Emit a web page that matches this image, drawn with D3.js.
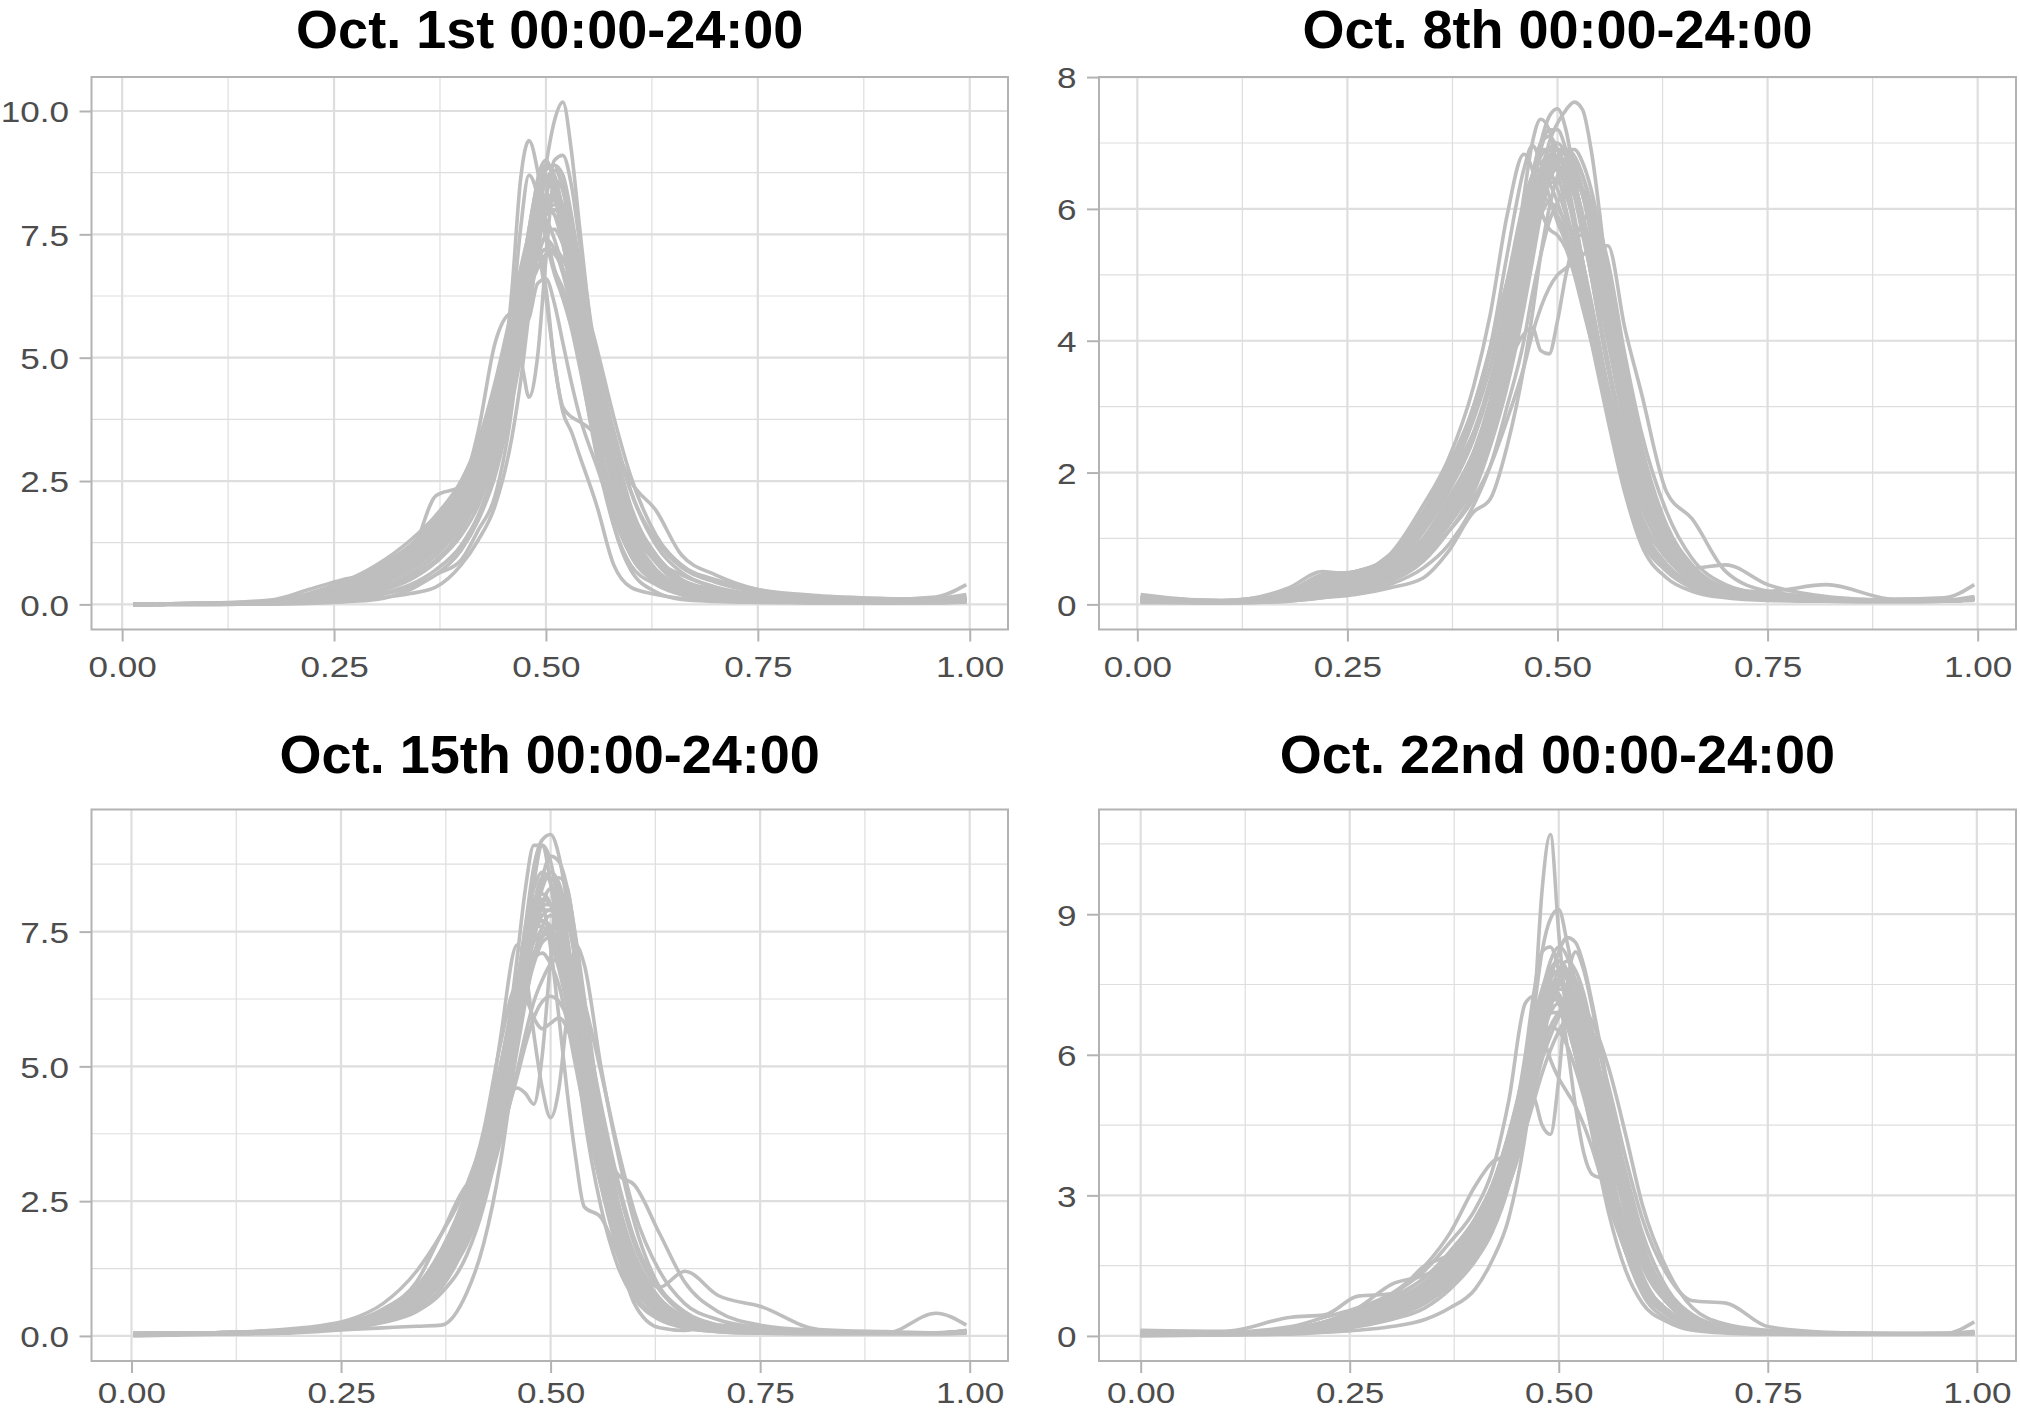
<!DOCTYPE html>
<html>
<head>
<meta charset="utf-8">
<script src="https://cdn.jsdelivr.net/npm/d3@7"></script>
<style>
  body { margin: 0; background: #fff; }
  svg { display: block; }
</style>
</head>
<body>
<svg id="chart" width="2020" height="1410"></svg>
<script>
//DATA
const titles = ["Oct. 1st 00:00-24:00", "Oct. 8th 00:00-24:00", "Oct. 15th 00:00-24:00", "Oct. 22nd 00:00-24:00"];

const xTicks = [0, 0.25, 0.5, 0.75, 1];
const xTickLabels = ["0.00", "0.25", "0.50", "0.75", "1.00"];

const yTicks1 = [0, 2.5, 5, 7.5, 10];
const yTickLabels1 = ["0.0", "2.5", "5.0", "7.5", "10.0"];
const yTicks2 = [0, 2, 4, 6, 8];
const yTickLabels2 = ["0", "2", "4", "6", "8"];
const yTicks3 = [0, 2.5, 5, 7.5];
const yTickLabels3 = ["0.0", "2.5", "5.0", "7.5"];
const yTicks4 = [0, 3, 6, 9];
const yTickLabels4 = ["0", "3", "6", "9"];

const xs1 = [0.013,0.1,0.18,0.22,0.26, 0.3,0.34,0.37,0.4,0.42, 0.44,0.46,0.47,0.48,0.49, 0.5,0.51,0.52,0.53,0.54, 0.56,0.58,0.6,0.63,0.66, 0.7,0.75,0.82,0.9,0.96, 0.996];
const xs2 = [0.004,0.1,0.18,0.22,0.26, 0.3,0.34,0.37,0.4,0.42, 0.44,0.46,0.47,0.48,0.49, 0.5,0.51,0.52,0.53,0.54, 0.56,0.58,0.6,0.63,0.66, 0.7,0.75,0.82,0.9,0.96, 0.996];
const xs3 = [0.002,0.1,0.18,0.22,0.26, 0.3,0.34,0.37,0.4,0.42, 0.44,0.46,0.47,0.48,0.49, 0.5,0.51,0.52,0.53,0.54, 0.56,0.58,0.6,0.63,0.66, 0.7,0.75,0.82,0.9,0.96, 0.996];
const xs4 = [0.0,0.1,0.18,0.22,0.26, 0.3,0.34,0.37,0.4,0.42, 0.44,0.46,0.47,0.48,0.49, 0.5,0.51,0.52,0.53,0.54, 0.56,0.58,0.6,0.63,0.66, 0.7,0.75,0.82,0.9,0.96, 0.997];

const oct1 = [
  [0,0.01,0.02,0.05,0.1, 0.2,0.4,0.7,1.2,1.8, 2.8,4.2,5.2,6.4,7.7, 8.9,9.8,10.18,9.2,7.6, 4.6,2.5,1.3,0.6,0.3, 0.15,0.08,0.05,0.04,0.05, 0.06],
  [0,0.02,0.05,0.15,0.3, 0.5,0.9,1.4,2.0,2.6, 3.6,6.4,8.6,9.4,8.8, 7.6,6.8,6.4,5.8,4.9, 3.0,1.6,0.8,0.4,0.2, 0.12,0.08,0.06,0.05,0.05, 0.08],
  [0,0.01,0.03,0.1,0.25, 0.45,0.8,1.3,1.9,2.5, 3.2,4.6,4.9,4.2,5.0, 7.0,8.6,8.4,7.3,5.9, 3.6,2.0,1.1,0.5,0.25, 0.12,0.07,0.05,0.04,0.05, 0.1],
  [0,0.02,0.1,0.3,0.5, 0.65,1.0,2.2,2.4,3.5, 5.3,5.9,5.6,5.8,6.5, 6.6,6.1,5.3,4.5,3.8, 2.8,1.8,1.1,0.6,0.35, 0.2,0.1,0.06,0.05,0.06, 0.1],
  [0,0.01,0.05,0.2,0.45, 0.7,1.0,1.5,2.2,2.9, 3.9,5.5,6.3,7.0,7.1, 6.2,4.9,3.9,3.5,3.0, 2.0,0.8,0.35,0.2,0.12, 0.08,0.05,0.04,0.04,0.04, 0.05],
  [0,0.01,0.02,0.06,0.15, 0.3,0.6,1.0,1.6,2.2, 3.0,4.4,5.3,6.2,7.0, 7.5,7.6,7.3,6.8,6.0, 4.5,3.3,2.5,1.9,1.0, 0.6,0.3,0.15,0.1,0.1, 0.15],
  [0,0,0.01,0.02,0.05, 0.1,0.3,0.6,0.9,1.5, 2.2,4.0,5.5,7.0,8.2, 8.8,8.9,8.4,7.6,6.4, 4.3,2.6,1.4,0.6,0.3, 0.15,0.08,0.05,0.05,0.05, 0.08],
  [0,0.01,0.04,0.12,0.3, 0.55,0.95,1.5,2.3,3.1, 4.3,5.8,6.6,7.3,7.8, 8.0,7.9,7.6,7.0,6.1, 4.4,2.8,1.6,0.9,0.6, 0.35,0.2,0.12,0.1,0.12, 0.2],
  [0,0,0.02,0.04,0.1, 0.18,0.35,0.6,1.1,1.7, 2.6,4.1,5.0,6.0,7.1, 8.2,9.0,9.1,8.5,7.3, 4.9,2.9,1.6,0.7,0.3, 0.12,0.06,0.04,0.03,0.05, 0.12],
  [0,0.02,0.06,0.2,0.45, 0.8,1.3,1.8,2.5,3.2, 4.2,5.3,5.9,6.4,6.8, 7.1,7.2,7.0,6.6,6.0, 4.8,3.5,2.3,1.3,0.75, 0.45,0.25,0.12,0.08,0.08, 0.12],
  [0,0,0.01,0.03,0.06, 0.12,0.22,0.35,0.8,1.3, 2.0,3.4,4.5,5.9,7.2, 8.3,8.9,8.7,7.9,6.8, 4.7,3.0,1.8,0.9,0.5, 0.3,0.15,0.1,0.1,0.15, 0.4],
  [0,0.01,0.03,0.08,0.2, 0.4,0.7,1.1,1.6,2.1, 3.0,4.8,6.0,7.4,8.6, 9.0,8.5,7.4,6.2,5.1, 3.2,1.6,0.7,0.25,0.1, 0.06,0.04,0.03,0.03,0.03, 0.05],
  [0,0.01,0.05,0.15,0.35, 0.6,1.0,1.5,2.1,2.8, 3.8,5.2,6.2,7.1,7.3, 6.4,4.9,4.0,3.8,3.7, 3.4,2.6,1.7,0.9,0.5, 0.25,0.12,0.07,0.05,0.05, 0.08],
  [0,0.01,0.02,0.05,0.12, 0.25,0.5,0.85,1.4,2.0, 3.0,4.6,5.5,6.6,7.8, 8.5,8.4,7.8,7.2,6.5, 5.2,3.8,2.6,1.4,0.8, 0.5,0.3,0.18,0.12,0.1, 0.15],
  [0,0.01,0.03,0.1,0.25, 0.45,0.8,1.2,1.8,2.4, 3.4,5.8,7.6,8.7,8.3, 7.4,6.7,6.2,5.6,4.8, 3.1,1.8,1.0,0.5,0.25, 0.12,0.07,0.05,0.04,0.05, 0.06],
  [0,0.01,0.04,0.12,0.28, 0.5,0.85,1.3,1.9,2.6, 3.7,5.3,6.3,7.2,7.9, 8.3,8.2,7.7,6.9,5.9, 4.0,2.4,1.3,0.6,0.3, 0.15,0.08,0.05,0.05,0.05, 0.08],
  [0,0.01,0.03,0.08,0.2, 0.4,0.75,1.2,1.8,2.5, 3.5,5.0,5.9,6.8,7.5, 7.9,8.0,7.8,7.3,6.5, 4.7,3.1,1.8,0.9,0.45, 0.22,0.12,0.07,0.05,0.05, 0.08],
  [0,0.02,0.05,0.15,0.35, 0.6,1.0,1.5,2.2,3.0, 4.1,5.6,6.5,7.5,8.3, 8.7,8.5,7.8,6.8,5.6, 3.5,2.0,1.1,0.5,0.25, 0.12,0.07,0.05,0.04,0.05, 0.08],
  [0,0.01,0.03,0.09,0.22, 0.42,0.75,1.1,1.7,2.3, 3.3,4.9,6.0,7.1,8.0, 8.6,8.8,8.5,7.8,6.9, 4.9,3.1,1.8,0.85,0.4, 0.2,0.1,0.06,0.05,0.05, 0.1],
  [0,0.02,0.06,0.18,0.4, 0.7,1.15,1.7,2.4,3.1, 4.2,5.6,6.3,6.9,7.3, 7.4,7.2,6.7,6.0,5.2, 3.7,2.5,1.6,0.85,0.45, 0.25,0.13,0.08,0.06,0.06, 0.1],
  [0,0.01,0.02,0.06,0.14, 0.28,0.55,0.9,1.5,2.2, 3.3,5.2,6.4,7.6,8.5, 8.9,8.7,8.0,7.0,5.9, 3.9,2.3,1.2,0.5,0.22, 0.1,0.06,0.04,0.04,0.04, 0.06],
  [0,0.02,0.07,0.22,0.45, 0.75,1.2,1.75,2.5,3.3, 4.5,6.0,6.8,7.5,7.9, 7.8,7.4,6.8,6.0,5.1, 3.4,2.1,1.2,0.6,0.3, 0.15,0.08,0.06,0.05,0.06, 0.1],
  [0,0.01,0.03,0.1,0.22, 0.45,0.8,1.25,1.9,2.6, 3.7,5.2,6.1,6.9,7.6, 8.1,8.3,8.1,7.5,6.7, 4.9,3.3,2.0,1.0,0.5, 0.25,0.12,0.07,0.06,0.07, 0.12],
  [0,0.01,0.04,0.14,0.32, 0.6,1.05,1.6,2.3,3.0, 4.0,5.5,6.5,7.6,8.5, 8.9,8.6,7.7,6.6,5.4, 3.3,1.9,1.0,0.45,0.2, 0.1,0.06,0.04,0.04,0.05, 0.08],
  [0,0.01,0.02,0.07,0.16, 0.32,0.62,1.0,1.6,2.2, 3.1,4.5,5.4,6.4,7.3, 7.9,8.1,7.9,7.4,6.7, 5.0,3.5,2.3,1.2,0.65, 0.35,0.18,0.1,0.07,0.08, 0.15],
  [0,0.02,0.05,0.16,0.38, 0.66,1.1,1.6,2.3,3.0, 4.0,5.3,6.0,6.6,7.0, 7.2,7.1,6.8,6.3,5.7, 4.3,3.0,1.9,1.0,0.5, 0.25,0.13,0.08,0.06,0.06, 0.1],
  [0,0.01,0.03,0.09,0.2, 0.38,0.7,1.1,1.7,2.4, 3.5,5.2,6.3,7.5,8.4, 8.7,8.3,7.4,6.3,5.2, 3.2,1.9,1.0,0.45,0.2, 0.1,0.06,0.04,0.04,0.04, 0.06],
  [0,0.01,0.04,0.12,0.3, 0.55,0.9,1.4,2.0,2.7, 3.8,5.4,6.4,7.3,7.9, 8.1,7.9,7.3,6.5,5.6, 3.8,2.4,1.4,0.7,0.35, 0.18,0.1,0.06,0.05,0.05, 0.08],
  [0,0.01,0.03,0.1,0.24, 0.46,0.82,1.3,2.0,2.7, 3.8,5.1,5.9,6.7,7.4, 7.9,8.2,8.1,7.6,6.8, 4.9,3.2,1.9,0.9,0.45, 0.22,0.12,0.07,0.05,0.05, 0.08]
];

const oct8 = [
  [0.05,0.05,0.1,0.2,0.3, 0.45,0.8,1.3,2.0,2.6, 3.5,4.8,5.6,6.4,7.0, 7.3,7.5,7.62,7.5,6.9, 4.9,3.2,2.0,1.0,0.5, 0.2,0.1,0.05,0.05,0.05, 0.1],
  [0.1,0.05,0.15,0.3,0.4, 0.6,1.0,1.6,2.3,3.0, 4.0,5.6,6.4,7.0,7.4, 7.52,7.2,6.5,5.8,5.0, 3.6,2.5,1.6,0.9,0.45, 0.2,0.1,0.06,0.05,0.05, 0.08],
  [0.05,0.05,0.12,0.25,0.4, 0.6,1.1,1.8,2.6,3.3, 4.4,6.2,7.0,7.36,7.2, 6.6,6.0,5.5,5.0,4.4, 3.3,2.3,1.5,0.8,0.4, 0.2,0.1,0.05,0.04,0.05, 0.1],
  [0.1,0.05,0.15,0.35,0.45, 0.7,1.3,2.0,3.0,3.9, 5.3,6.6,6.96,6.7,6.2, 5.8,5.5,5.2,4.8,4.2, 3.1,2.1,1.3,0.7,0.35, 0.18,0.1,0.06,0.05,0.05, 0.1],
  [0.12,0.05,0.2,0.45,0.5, 0.75,1.5,2.2,3.3,4.4, 5.9,6.83,6.6,6.0,5.7, 5.6,5.4,5.0,4.5,4.0, 3.0,2.0,1.2,0.6,0.3, 0.15,0.1,0.06,0.05,0.05, 0.08],
  [0.05,0.04,0.1,0.2,0.3, 0.45,0.8,1.4,2.2,2.9, 3.6,4.1,4.2,3.85,3.8, 4.3,5.0,5.5,5.8,5.94, 5.2,3.8,2.6,1.4,0.7, 0.3,0.15,0.08,0.05,0.05, 0.1],
  [0.05,0.03,0.08,0.15,0.25, 0.4,0.7,1.1,1.6,2.1, 2.8,3.6,4.1,4.5,4.8, 5.0,5.1,5.2,5.3,5.4, 5.44,4.2,3.2,1.7,1.3, 0.5,0.2,0.1,0.06,0.05, 0.08],
  [0.03,0.02,0.05,0.1,0.15, 0.25,0.4,0.8,1.4,1.6, 2.4,3.6,4.4,5.3,6.0, 6.5,6.7,6.6,6.2,5.6, 4.2,2.9,1.8,0.9,0.4, 0.15,0.08,0.05,0.04,0.05, 0.1],
  [0.15,0.05,0.25,0.5,0.45, 0.75,1.2,1.9,2.6,3.3, 4.3,5.3,5.8,6.2,6.4, 6.4,6.2,5.8,5.2,4.5, 3.2,2.1,1.2,0.6,0.3, 0.15,0.1,0.06,0.05,0.06, 0.12],
  [0.05,0.04,0.1,0.2,0.3, 0.45,0.85,1.4,2.1,2.8, 3.7,4.9,5.6,6.2,6.6, 6.8,6.7,6.4,5.9,5.3, 4.0,2.8,1.8,1.0,0.55, 0.6,0.3,0.12,0.06,0.05, 0.08],
  [0.08,0.05,0.12,0.25,0.35, 0.5,0.9,1.5,2.3,3.1, 4.2,5.6,6.3,6.8,6.9, 6.7,6.3,5.7,5.0,4.3, 3.1,2.0,1.2,0.6,0.3, 0.2,0.2,0.3,0.08,0.1, 0.3],
  [0.05,0.04,0.1,0.2,0.3, 0.5,0.9,1.5,2.2,2.9, 3.9,5.2,5.9,6.5,6.8, 6.9,6.8,6.4,5.9,5.3, 4.0,2.7,1.7,0.9,0.45, 0.2,0.1,0.05,0.05,0.05, 0.1],
  [0.03,0.02,0.05,0.1,0.18, 0.3,0.55,0.9,1.5,2.1, 3.0,4.0,4.7,5.3,5.8, 6.1,6.3,6.4,6.3,6.0, 4.9,3.6,2.4,1.2,0.6, 0.25,0.12,0.06,0.05,0.05, 0.08],
  [0.1,0.05,0.2,0.4,0.5, 0.7,1.4,2.1,3.0,3.9, 4.9,5.8,6.1,6.2,6.1, 5.9,5.6,5.1,4.6,4.0, 2.8,1.7,0.9,0.4,0.2, 0.1,0.06,0.05,0.05,0.05, 0.06],
  [0.05,0.04,0.1,0.2,0.3, 0.5,0.9,1.4,2.1,2.8, 3.8,4.9,5.5,5.9,6.1, 6.0,5.8,5.6,5.6,5.6, 4.8,3.4,2.2,1.1,0.5, 0.2,0.1,0.05,0.05,0.05, 0.08],
  [0.06,0.04,0.1,0.22,0.32, 0.5,0.9,1.5,2.2,2.9, 3.9,5.3,6.0,6.6,6.9, 7.0,6.8,6.3,5.7,5.0, 3.6,2.4,1.5,0.75,0.35, 0.15,0.08,0.05,0.05,0.05, 0.08],
  [0.04,0.03,0.08,0.16,0.26, 0.42,0.75,1.2,1.9,2.6, 3.5,4.7,5.4,6.0,6.5, 6.8,6.9,6.8,6.5,6.0, 4.6,3.2,2.0,1.0,0.5, 0.22,0.1,0.06,0.05,0.05, 0.08],
  [0.08,0.05,0.15,0.3,0.42, 0.62,1.1,1.7,2.5,3.3, 4.4,5.8,6.5,7.0,7.1, 6.9,6.5,5.9,5.2,4.5, 3.1,2.0,1.2,0.6,0.3, 0.14,0.08,0.05,0.05,0.05, 0.08],
  [0.05,0.04,0.1,0.2,0.3, 0.48,0.85,1.4,2.0,2.7, 3.6,4.8,5.5,6.1,6.5, 6.6,6.5,6.2,5.8,5.3, 4.1,2.9,1.9,1.0,0.5, 0.22,0.1,0.06,0.05,0.05, 0.1],
  [0.1,0.06,0.18,0.38,0.48, 0.68,1.25,1.9,2.8,3.6, 4.7,6.0,6.5,6.7,6.6, 6.3,5.9,5.4,4.9,4.3, 3.0,1.9,1.1,0.55,0.28, 0.13,0.08,0.05,0.05,0.05, 0.08],
  [0.04,0.03,0.07,0.14,0.22, 0.35,0.65,1.1,1.7,2.4, 3.3,4.5,5.2,5.9,6.4, 6.7,6.9,6.9,6.7,6.3, 5.0,3.5,2.2,1.1,0.55, 0.24,0.12,0.06,0.05,0.05, 0.08],
  [0.07,0.05,0.12,0.26,0.36, 0.55,0.95,1.55,2.3,3.0, 4.0,5.4,6.1,6.6,6.8, 6.8,6.6,6.2,5.6,5.0, 3.6,2.5,1.6,0.8,0.4, 0.18,0.1,0.06,0.05,0.05, 0.08],
  [0.05,0.04,0.1,0.2,0.3, 0.46,0.82,1.35,2.0,2.7, 3.6,4.9,5.7,6.3,6.7, 6.9,6.9,6.7,6.3,5.8, 4.4,3.1,2.0,1.0,0.5, 0.22,0.11,0.06,0.05,0.05, 0.08],
  [0.09,0.05,0.16,0.33,0.44, 0.65,1.15,1.8,2.6,3.4, 4.5,5.9,6.5,6.9,6.9, 6.7,6.3,5.8,5.2,4.6, 3.3,2.2,1.35,0.7,0.35, 0.16,0.09,0.05,0.05,0.05, 0.08],
  [0.04,0.03,0.08,0.17,0.27, 0.42,0.76,1.25,1.9,2.6, 3.5,4.8,5.5,6.1,6.5, 6.7,6.7,6.5,6.2,5.7, 4.5,3.2,2.1,1.1,0.55, 0.24,0.12,0.06,0.05,0.05, 0.1],
  [0.06,0.04,0.12,0.25,0.35, 0.53,0.95,1.55,2.3,3.0, 4.1,5.5,6.3,6.9,7.2, 7.2,6.9,6.4,5.8,5.1, 3.7,2.5,1.6,0.8,0.4, 0.18,0.09,0.05,0.05,0.05, 0.08],
  [0.05,0.04,0.1,0.21,0.31, 0.48,0.86,1.4,2.1,2.8, 3.8,5.1,5.8,6.4,6.7, 6.8,6.6,6.3,5.9,5.4, 4.1,2.9,1.9,1.0,0.5, 0.22,0.11,0.06,0.05,0.05, 0.08],
  [0.11,0.06,0.2,0.42,0.5, 0.72,1.35,2.0,2.9,3.8, 4.9,6.1,6.5,6.6,6.4, 6.1,5.7,5.2,4.7,4.1, 2.9,1.8,1.0,0.5,0.25, 0.12,0.07,0.05,0.05,0.05, 0.07],
  [0.04,0.03,0.08,0.16,0.25, 0.4,0.72,1.2,1.8,2.5, 3.4,4.6,5.3,6.0,6.5, 6.8,6.9,6.8,6.5,6.1, 4.8,3.4,2.2,1.1,0.55, 0.25,0.12,0.06,0.05,0.05, 0.1]
];

const oct15 = [
  [0.02,0.05,0.08,0.12,0.2, 0.3,0.6,1.1,1.9,2.9, 4.3,6.3,7.6,8.7,9.2, 9.3,8.9,8.0,6.9,5.7, 3.6,2.1,1.2,0.6,0.3, 0.15,0.08,0.05,0.05,0.05, 0.1],
  [0.02,0.05,0.08,0.12,0.2, 0.3,0.5,0.9,1.8,2.9, 4.6,7.0,8.3,9.1,9.1, 8.4,7.3,6.2,5.2,4.3, 2.8,1.6,0.9,0.4,0.2, 0.1,0.06,0.05,0.05,0.05, 0.1],
  [0.03,0.06,0.1,0.15,0.2, 0.35,0.7,1.3,2.3,3.4, 5.5,7.25,6.8,5.6,4.6, 4.05,4.6,6.0,7.25,6.9, 5.0,3.4,2.1,0.9,0.4, 0.15,0.08,0.05,0.05,0.05, 0.1],
  [0.05,0.05,0.1,0.15,0.25, 0.5,1.0,1.9,2.8,3.0, 3.8,5.3,6.2,7.0,7.6, 7.8,7.5,6.8,5.9,5.0, 3.3,2.0,1.2,0.6,0.3, 0.15,0.08,0.05,0.05,0.05, 0.08],
  [0,0.03,0.05,0.08,0.12, 0.15,0.18,0.2,0.8,1.7, 3.2,5.4,6.6,7.7,8.4, 8.6,8.3,7.4,6.3,5.1, 3.0,1.6,0.8,0.35,0.15, 0.08,0.05,0.04,0.04,0.04, 0.06],
  [0.05,0.05,0.1,0.15,0.25, 0.45,0.9,1.6,2.7,3.8, 5.4,6.5,6.3,5.9,5.7, 5.8,5.9,5.7,5.2,4.5, 3.1,2.0,1.2,0.6,0.3, 0.15,0.08,0.05,0.05,0.05, 0.08],
  [0.03,0.05,0.08,0.12,0.2, 0.35,0.7,1.3,2.2,3.1, 4.1,4.6,4.5,4.3,5.2, 7.0,8.5,8.3,7.3,6.0, 3.8,2.2,1.2,0.55,0.25, 0.12,0.06,0.05,0.05,0.05, 0.08],
  [0.03,0.05,0.08,0.12,0.2, 0.35,0.65,1.1,1.9,2.7, 3.7,4.8,5.4,5.9,6.2, 6.3,6.2,5.9,5.4,4.8, 3.8,3.0,2.8,1.9,1.0, 0.45,0.2,0.1,0.06,0.05, 0.08],
  [0.02,0.05,0.08,0.12,0.2, 0.3,0.6,1.2,2.1,3.1, 4.5,6.4,7.5,8.1,8.0, 7.2,5.9,4.5,3.3,2.4, 2.2,1.5,0.6,0.15,0.1, 0.2,0.12,0.06,0.05,0.05, 0.06],
  [0.05,0.06,0.1,0.15,0.25, 0.45,0.85,1.4,2.3,3.2, 4.5,5.8,6.5,7.1,7.4, 7.5,7.3,6.8,6.0,5.2, 3.7,2.4,1.5,0.9,1.2, 0.75,0.55,0.12,0.08,0.06, 0.1],
  [0.04,0.05,0.1,0.15,0.22, 0.4,0.8,1.4,2.4,3.5, 5.0,6.6,7.4,8.0,8.2, 8.0,7.4,6.6,5.6,4.6, 3.0,1.8,1.0,0.5,0.25, 0.12,0.07,0.05,0.05,0.42, 0.2],
  [0.02,0.04,0.06,0.1,0.15, 0.25,0.45,0.8,1.5,2.4, 3.8,5.9,7.2,8.4,9.1, 8.8,7.9,6.6,5.3,4.1, 2.4,1.3,0.7,0.3,0.15, 0.08,0.05,0.04,0.04,0.04, 0.05],
  [0.02,0.04,0.06,0.1,0.15, 0.28,0.55,1.0,1.7,2.5, 3.6,4.9,5.6,6.2,6.6, 6.9,7.0,7.0,6.7,6.2, 4.9,3.5,2.3,1.2,0.6, 0.3,0.15,0.08,0.05,0.05, 0.08],
  [0.05,0.06,0.12,0.18,0.3, 0.6,1.2,1.9,2.8,3.7, 4.9,6.0,6.6,7.0,7.1, 6.9,6.5,5.8,5.0,4.2, 2.8,1.7,0.9,0.45,0.2, 0.1,0.06,0.05,0.05,0.05, 0.08],
  [0.02,0.04,0.07,0.1,0.18, 0.3,0.6,1.1,1.9,2.8, 4.0,5.8,6.9,7.8,8.5, 8.9,8.8,8.3,7.4,6.3, 4.1,2.5,1.4,0.6,0.3, 0.12,0.07,0.05,0.05,0.05, 0.08],
  [0.03,0.05,0.08,0.12,0.2, 0.35,0.7,1.25,2.1,3.0, 4.3,5.9,6.8,7.6,8.0, 8.0,7.6,6.9,6.0,5.1, 3.4,2.1,1.2,0.6,0.3, 0.14,0.08,0.05,0.05,0.05, 0.08],
  [0.02,0.04,0.07,0.1,0.18, 0.32,0.62,1.1,1.9,2.8, 4.1,5.8,6.8,7.5,7.9, 7.9,7.6,7.0,6.2,5.3, 3.5,2.1,1.2,0.55,0.25, 0.12,0.06,0.05,0.05,0.05, 0.08],
  [0.04,0.06,0.1,0.15,0.24, 0.45,0.9,1.6,2.6,3.6, 5.0,6.5,7.2,7.6,7.6, 7.3,6.8,6.1,5.3,4.5, 3.0,1.9,1.1,0.55,0.28, 0.13,0.07,0.05,0.05,0.05, 0.08],
  [0.02,0.04,0.06,0.1,0.16, 0.28,0.55,1.0,1.8,2.7, 4.0,5.7,6.8,7.7,8.3, 8.6,8.4,7.8,6.9,5.8, 3.8,2.3,1.3,0.6,0.28, 0.13,0.07,0.05,0.05,0.05, 0.07],
  [0.03,0.05,0.08,0.12,0.2, 0.36,0.7,1.2,2.0,2.9, 4.1,5.5,6.3,6.9,7.3, 7.4,7.3,7.0,6.5,5.8, 4.2,2.8,1.7,0.85,0.42, 0.2,0.1,0.06,0.05,0.05, 0.08],
  [0.02,0.04,0.07,0.11,0.18, 0.3,0.6,1.1,2.0,3.0, 4.6,6.5,7.6,8.3,8.6, 8.4,7.8,6.9,5.9,4.9, 3.1,1.8,1.0,0.45,0.22, 0.1,0.06,0.05,0.05,0.05, 0.07],
  [0.03,0.05,0.08,0.12,0.21, 0.38,0.75,1.3,2.2,3.2, 4.6,6.2,7.1,7.8,8.1, 8.0,7.6,6.9,6.0,5.1, 3.3,2.0,1.1,0.55,0.27, 0.13,0.07,0.05,0.05,0.05, 0.08],
  [0.02,0.04,0.07,0.11,0.18, 0.33,0.65,1.15,2.0,2.9, 4.2,5.8,6.7,7.4,7.8, 7.9,7.7,7.2,6.5,5.7, 3.9,2.5,1.5,0.7,0.35, 0.16,0.08,0.05,0.05,0.05, 0.08],
  [0.04,0.06,0.1,0.15,0.25, 0.46,0.9,1.55,2.5,3.5, 4.9,6.4,7.1,7.6,7.7, 7.5,7.0,6.3,5.5,4.7, 3.1,1.9,1.1,0.5,0.25, 0.12,0.07,0.05,0.05,0.05, 0.08],
  [0.02,0.04,0.06,0.1,0.17, 0.3,0.58,1.05,1.85,2.75, 4.0,5.6,6.6,7.4,8.0, 8.3,8.2,7.7,7.0,6.1, 4.1,2.5,1.4,0.65,0.3, 0.14,0.07,0.05,0.05,0.05, 0.07],
  [0.03,0.05,0.09,0.13,0.22, 0.4,0.8,1.4,2.3,3.3, 4.6,6.0,6.8,7.3,7.5, 7.4,7.1,6.6,5.9,5.1, 3.5,2.2,1.3,0.65,0.32, 0.15,0.08,0.05,0.05,0.05, 0.08],
  [0.02,0.04,0.07,0.1,0.17, 0.3,0.6,1.1,1.95,2.9, 4.3,6.1,7.2,8.0,8.5, 8.5,8.1,7.3,6.3,5.3, 3.4,2.0,1.1,0.5,0.24, 0.11,0.06,0.05,0.05,0.05, 0.07],
  [0.03,0.05,0.08,0.12,0.2, 0.36,0.7,1.2,2.0,2.9, 4.1,5.6,6.4,7.0,7.4, 7.6,7.5,7.2,6.6,5.9, 4.3,2.9,1.8,0.9,0.45, 0.2,0.1,0.06,0.05,0.05, 0.08],
  [0.04,0.05,0.09,0.14,0.23, 0.42,0.85,1.5,2.4,3.4, 4.8,6.3,7.0,7.5,7.7, 7.6,7.2,6.5,5.7,4.9, 3.3,2.0,1.2,0.6,0.3, 0.14,0.08,0.05,0.05,0.05, 0.08]
];

const oct22 = [
  [0.02,0.03,0.05,0.1,0.2, 0.35,0.6,1.0,1.6,2.2, 3.2,5.0,6.8,9.5,10.7, 8.6,6.8,6.0,5.2,4.3, 2.6,1.4,0.7,0.3,0.12, 0.06,0.04,0.03,0.03,0.03, 0.05],
  [0.05,0.05,0.1,0.2,0.35, 0.55,0.9,1.4,2.1,2.8, 3.8,5.6,6.9,8.2,8.9, 9.1,8.4,7.5,6.5,5.4, 3.3,1.8,0.9,0.35,0.15, 0.08,0.05,0.04,0.04,0.04, 0.05],
  [0.02,0.03,0.06,0.12,0.22, 0.4,0.7,1.1,1.8,2.5, 3.5,4.9,5.8,6.8,7.6, 8.2,8.5,8.4,7.9,7.1, 5.2,3.4,2.0,0.9,0.4, 0.15,0.08,0.05,0.04,0.04, 0.06],
  [0.1,0.05,0.15,0.3,0.5, 0.7,1.1,1.6,2.3,3.0, 4.1,6.0,7.3,8.2,8.3, 7.8,7.0,6.2,5.4,4.6, 3.0,1.8,1.0,0.45,0.2, 0.1,0.06,0.04,0.04,0.04, 0.06],
  [0.05,0.05,0.1,0.2,0.35, 0.6,1.0,1.5,2.2,3.0, 4.1,5.2,5.1,4.5,4.3, 5.5,7.5,8.2,7.8,7.0, 5.0,3.2,1.8,0.8,0.35, 0.15,0.08,0.05,0.04,0.04, 0.06],
  [0.1,0.08,0.2,0.4,0.6, 0.9,1.4,2.0,2.7,3.5, 5.0,7.1,7.25,6.5,5.9, 5.5,5.2,4.9,4.5,4.0, 2.8,1.8,1.0,0.45,0.2, 0.1,0.06,0.05,0.04,0.05, 0.08],
  [0.05,0.05,0.15,0.3,0.55, 0.9,1.5,2.2,3.2,3.7, 3.9,4.8,5.6,6.4,6.9, 7.1,6.9,6.4,5.7,4.9, 3.4,2.1,1.2,0.55,0.25, 0.12,0.07,0.05,0.04,0.05, 0.08],
  [0.03,0.04,0.08,0.15,0.3, 0.5,0.85,1.3,2.0,2.7, 3.8,5.4,6.4,7.2,7.5, 7.2,6.2,4.9,3.9,3.45, 3.3,2.4,1.3,0.5,0.2, 0.1,0.06,0.04,0.04,0.04, 0.06],
  [0.05,0.05,0.1,0.2,0.35, 0.55,0.9,1.3,1.9,2.5, 3.3,4.4,5.0,5.6,6.1, 6.5,6.8,6.9,6.8,6.5, 5.3,3.8,2.5,1.3,0.75, 0.7,0.2,0.08,0.05,0.05, 0.08],
  [0.12,0.1,0.4,0.45,0.85, 0.9,1.5,1.75,2.3,3.0, 4.0,5.3,6.0,6.6,6.9, 6.9,6.6,6.0,5.3,4.5, 3.0,1.8,1.0,0.45,0.2, 0.1,0.06,0.05,0.04,0.05, 0.1],
  [0,0.02,0.04,0.08,0.12, 0.2,0.35,0.6,1.0,1.6, 2.5,4.3,5.6,6.9,7.8, 8.0,7.7,7.0,6.1,5.2, 3.4,2.0,1.1,0.45,0.18, 0.08,0.05,0.04,0.04,0.04, 0.3],
  [0.02,0.03,0.06,0.12,0.25, 0.45,0.8,1.2,1.8,2.4, 3.3,4.5,5.2,5.9,6.4, 6.8,7.0,7.1,7.0,6.7, 5.7,4.3,2.8,1.4,0.6, 0.25,0.12,0.06,0.05,0.05, 0.08],
  [0.03,0.04,0.08,0.15,0.3, 0.5,0.8,1.3,2.0,2.7, 3.7,5.2,6.3,7.3,8.0, 8.3,8.1,7.5,6.7,5.8, 3.8,2.2,1.2,0.5,0.2, 0.1,0.06,0.04,0.04,0.04, 0.06],
  [0.05,0.06,0.15,0.3,0.6, 1.1,1.3,1.6,2.2,2.9, 3.9,5.1,5.8,6.3,6.6, 6.5,6.2,5.7,5.1,4.4, 3.0,1.9,1.1,0.5,0.25, 0.12,0.07,0.05,0.05,0.05, 0.08],
  [0.03,0.04,0.07,0.12,0.25, 0.45,0.75,1.2,1.9,2.6, 3.6,5.0,5.9,6.7,7.3, 7.6,7.8,7.6,7.0,6.2, 4.6,3.1,1.8,0.8,0.35, 0.15,0.08,0.05,0.04,0.04, 0.06],
  [0.04,0.05,0.09,0.18,0.32, 0.52,0.85,1.3,2.0,2.7, 3.7,5.1,6.1,7.0,7.6, 7.8,7.6,7.0,6.2,5.3, 3.5,2.1,1.1,0.5,0.2, 0.1,0.06,0.04,0.04,0.04, 0.06],
  [0.03,0.04,0.08,0.16,0.3, 0.5,0.8,1.25,1.9,2.6, 3.5,4.8,5.7,6.6,7.2, 7.5,7.5,7.2,6.7,6.0, 4.3,2.8,1.6,0.7,0.3, 0.13,0.07,0.05,0.04,0.04, 0.06],
  [0.06,0.06,0.14,0.28,0.5, 0.8,1.25,1.8,2.5,3.2, 4.3,5.7,6.5,7.1,7.3, 7.1,6.7,6.0,5.3,4.5, 3.0,1.8,1.0,0.45,0.2, 0.1,0.06,0.04,0.04,0.04, 0.06],
  [0.03,0.04,0.08,0.15,0.28, 0.48,0.8,1.2,1.85,2.5, 3.4,4.7,5.6,6.5,7.3, 7.8,8.0,7.8,7.3,6.5, 4.6,2.9,1.6,0.7,0.3, 0.13,0.07,0.05,0.04,0.04, 0.06],
  [0.05,0.05,0.12,0.24,0.42, 0.68,1.05,1.55,2.2,2.9, 3.9,5.3,6.2,7.0,7.5, 7.6,7.3,6.7,5.9,5.1, 3.4,2.1,1.2,0.55,0.25, 0.12,0.07,0.05,0.04,0.04, 0.06],
  [0.02,0.03,0.06,0.12,0.24, 0.42,0.72,1.1,1.7,2.3, 3.2,4.4,5.2,6.0,6.6, 6.9,7.1,7.0,6.7,6.2, 4.9,3.5,2.2,1.0,0.45, 0.2,0.1,0.06,0.05,0.05, 0.07],
  [0.04,0.05,0.1,0.2,0.36, 0.58,0.92,1.4,2.1,2.8, 3.8,5.3,6.3,7.2,7.8, 8.0,7.8,7.2,6.4,5.5, 3.6,2.1,1.1,0.5,0.2, 0.1,0.06,0.04,0.04,0.04, 0.06],
  [0.03,0.04,0.08,0.16,0.29, 0.49,0.8,1.2,1.85,2.5, 3.4,4.7,5.6,6.5,7.1, 7.4,7.4,7.1,6.6,5.9, 4.3,2.8,1.6,0.7,0.3, 0.13,0.07,0.05,0.04,0.04, 0.06],
  [0.05,0.06,0.13,0.26,0.46, 0.74,1.15,1.7,2.4,3.1, 4.1,5.5,6.4,7.1,7.4, 7.3,6.9,6.3,5.6,4.8, 3.2,1.9,1.05,0.48,0.2, 0.1,0.06,0.04,0.04,0.04, 0.06],
  [0.03,0.04,0.07,0.14,0.27, 0.46,0.76,1.15,1.8,2.4, 3.3,4.6,5.5,6.4,7.1, 7.6,7.8,7.6,7.1,6.4, 4.6,3.0,1.7,0.75,0.32, 0.14,0.07,0.05,0.04,0.04, 0.06],
  [0.05,0.05,0.11,0.22,0.4, 0.64,1.0,1.5,2.2,2.9, 3.9,5.2,6.0,6.7,7.1, 7.2,7.0,6.5,5.8,5.0, 3.4,2.1,1.2,0.55,0.25, 0.12,0.07,0.05,0.04,0.04, 0.06],
  [0.02,0.03,0.06,0.12,0.23, 0.4,0.7,1.1,1.7,2.3, 3.2,4.4,5.3,6.2,7.0, 7.5,7.7,7.5,7.0,6.3, 4.7,3.2,1.9,0.85,0.38, 0.16,0.08,0.05,0.04,0.04, 0.06],
  [0.06,0.06,0.15,0.3,0.52, 0.82,1.25,1.8,2.5,3.2, 4.3,5.8,6.7,7.4,7.8, 7.7,7.2,6.4,5.6,4.7, 3.0,1.8,1.0,0.45,0.2, 0.1,0.06,0.04,0.04,0.04, 0.06],
  [0.03,0.04,0.09,0.17,0.32, 0.53,0.86,1.3,2.0,2.7, 3.6,4.9,5.8,6.6,7.2, 7.5,7.4,7.0,6.4,5.7, 4.0,2.6,1.5,0.7,0.3, 0.13,0.07,0.05,0.04,0.04, 0.06]
];

//layout
const panels = [
  { title: titles[0], xs: xs1, curves: oct1,  yTicks: yTicks1, yLabels: yTickLabels1, left: 91.5, right: 1008, top: 77,    bottom: 629.5, titleY: 48, labelY: 47.5 },
  { title: titles[1], xs: xs2, curves: oct8,  yTicks: yTicks2, yLabels: yTickLabels2, left: 1099, right: 2016, top: 77,    bottom: 629.5, titleY: 48, labelY: 47.5 },
  { title: titles[2], xs: xs3, curves: oct15, yTicks: yTicks3, yLabels: yTickLabels3, left: 91.5, right: 1008, top: 809.5, bottom: 1361,  titleY: 773, labelY: 42 },
  { title: titles[3], xs: xs4, curves: oct22, yTicks: yTicks4, yLabels: yTickLabels4, left: 1099, right: 2016, top: 809.5, bottom: 1361,  titleY: 773, labelY: 42 }
];

const font = "'Liberation Sans', Arial, Helvetica, sans-serif";
const gridColor = "#dedede";
const frameColor = "#b3b3b3";
const textColor = "#4d4d4d";
const lineColor = "#bebebe";
const labelStretch = 1.17;

const svg = d3.select("#chart");

// midpoints between breaks, like ggplot minor breaks
function minorBreaks(ticks, domain) {
  const step = ticks[1] - ticks[0];
  const out = [ticks[0] - step / 2].concat(ticks.map(v => v + step / 2));
  return out.filter(v => v > domain[0] && v < domain[1]);
}

panels.forEach(p => {
  const xLo = d3.min(p.xs), xHi = d3.max(p.xs);
  const xPad = (xHi - xLo) * 0.05;
  const x = d3.scaleLinear().domain([xLo - xPad, xHi + xPad]).range([p.left, p.right]);

  const yMax = d3.max(p.curves, c => d3.max(c));
  const y = d3.scaleLinear().domain([-yMax * 0.05, yMax * 1.05]).range([p.bottom, p.top]);

  const g = svg.append("g");

  // grid
  const grid = g.append("g").attr("stroke", gridColor).attr("fill", "none");
  minorBreaks(xTicks, x.domain()).forEach(v => {
    grid.append("line").attr("x1", x(v)).attr("x2", x(v)).attr("y1", p.top).attr("y2", p.bottom).attr("stroke-width", 1.2);
  });
  minorBreaks(p.yTicks, y.domain()).forEach(v => {
    grid.append("line").attr("x1", p.left).attr("x2", p.right).attr("y1", y(v)).attr("y2", y(v)).attr("stroke-width", 1.2);
  });
  xTicks.forEach(v => {
    grid.append("line").attr("x1", x(v)).attr("x2", x(v)).attr("y1", p.top).attr("y2", p.bottom).attr("stroke-width", 2.2);
  });
  p.yTicks.forEach(v => {
    grid.append("line").attr("x1", p.left).attr("x2", p.right).attr("y1", y(v)).attr("y2", y(v)).attr("stroke-width", 2.2);
  });

  // curves
  const line = d3.line()
    .x((d, i) => x(p.xs[i]))
    .y(d => y(d))
    .curve(d3.curveMonotoneX);

  g.append("g")
    .selectAll("path")
    .data(p.curves)
    .join("path")
    .attr("d", line)
    .attr("fill", "none")
    .attr("stroke", lineColor)
    .attr("stroke-width", 3.6)
    .attr("stroke-linejoin", "round");

  // panel border
  g.append("rect")
    .attr("x", p.left).attr("y", p.top)
    .attr("width", p.right - p.left).attr("height", p.bottom - p.top)
    .attr("fill", "none").attr("stroke", frameColor).attr("stroke-width", 2);

  // axes
  const xAxis = g.append("g")
    .attr("transform", `translate(0,${p.bottom})`)
    .call(d3.axisBottom(x).tickValues(xTicks).tickSize(12).tickFormat((d, i) => xTickLabels[i]));
  xAxis.select(".domain").remove();
  xAxis.selectAll("line").attr("stroke", frameColor).attr("stroke-width", 2);
  xAxis.selectAll("text")
    .attr("y", 0).attr("dy", null)
    .attr("transform", `translate(0,${p.labelY}) scale(${labelStretch},1)`)
    .attr("fill", textColor)
    .style("font-family", font).style("font-size", "30px");

  const yAxis = g.append("g")
    .attr("transform", `translate(${p.left},0)`)
    .call(d3.axisLeft(y).tickValues(p.yTicks).tickSize(12).tickFormat((d, i) => p.yLabels[i]));
  yAxis.select(".domain").remove();
  yAxis.selectAll("line").attr("stroke", frameColor).attr("stroke-width", 2);
  yAxis.selectAll("text")
    .attr("x", 0).attr("dy", null).attr("y", 0)
    .attr("transform", `translate(-22.5,10.8) scale(${labelStretch},1)`)
    .attr("fill", textColor)
    .style("font-family", font).style("font-size", "30px");

  // title
  g.append("text")
    .attr("x", (p.left + p.right) / 2)
    .attr("y", p.titleY)
    .attr("text-anchor", "middle")
    .style("font-family", font)
    .style("font-size", "54px")
    .style("font-weight", "bold")
    .attr("fill", "#000")
    .text(p.title);
});
</script>
</body>
</html>
